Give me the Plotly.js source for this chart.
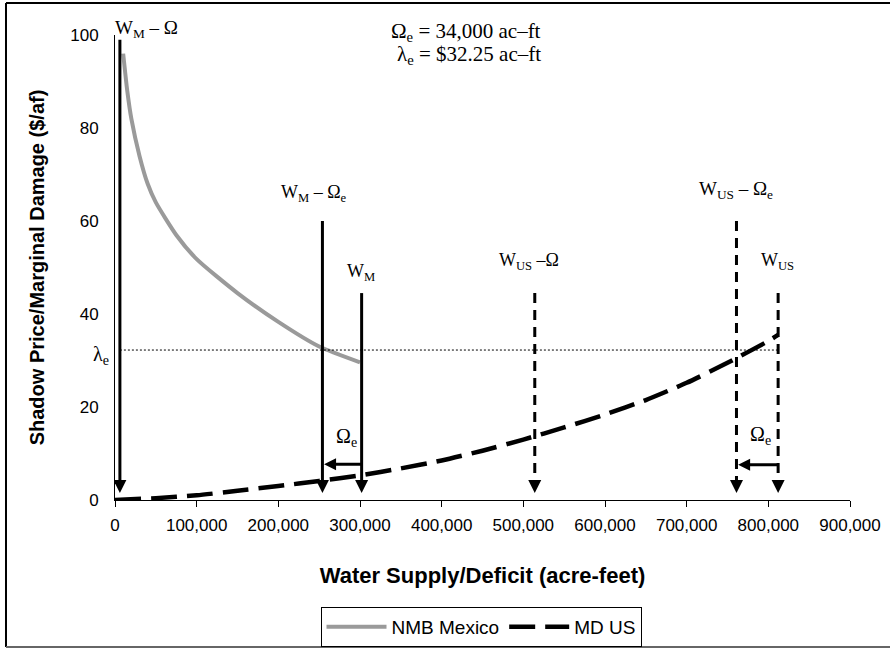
<!DOCTYPE html>
<html>
<head>
<meta charset="utf-8">
<script src="https://cdn.plot.ly/plotly-3.0.1.min.js"></script>
<style>
  html, body { margin: 0; padding: 0; background: #fff; }
  #chart { width: 890px; height: 648px; }
</style>
</head>
<body>
<div id="chart"></div>
<script>
// ---- Data ----
const mexicoX = [10000, 15000, 20000, 30000, 40000, 50000, 75000, 100000, 150000, 200000, 250000, 300000];
const mexicoY = [96, 88, 82, 74, 68, 64, 57, 51.8, 44.5, 38.3, 33.0, 29.6];

const usX = [0, 50000, 100000, 150000, 200000, 250000, 300000, 350000, 400000, 450000, 500000, 550000, 600000, 650000, 700000, 750000, 800000, 812000];
const usY = [0, 0.4, 1.0, 2.0, 3.0, 4.1, 5.3, 6.8, 8.5, 10.6, 13.0, 15.6, 18.4, 21.5, 25.2, 29.5, 34.2, 35.5];

// vertical reference arrows (W_M - Ω, W_M - Ω_e, W_M, W_US - Ω, W_US - Ω_e, W_US)
const refX      = [6000, 254000, 302000, 514000, 761000, 812000];
const refTop    = [99, 60, 44.5, 44.5, 60, 44.5];
const refTip    = [1.5, 1.5, 1.5, 1.5, 1.5, 1.5];
const refSolid  = [true, true, true, false, false, false];

// Ω_e transfer arrows (from W to W - Ω_e)
const omegaFrom = [302000, 812000];
const omegaTo   = [256000, 763000];
const omegaY    = [7.7, 7.6];

// equilibrium shadow price
const lambdaE = 32.25;
const lambdaX = [6000, 812000];

const xTicks = [0, 100000, 200000, 300000, 400000, 500000, 600000, 700000, 800000, 900000];
const yTicks = [0, 20, 40, 60, 80, 100];

// ---- Traces ----
const GRAY = '#9a9a9a';
const traces = [];

traces.push({
  x: mexicoX, y: mexicoY, type: 'scatter', mode: 'lines', name: 'NMB Mexico',
  line: { color: GRAY, width: 4, shape: 'spline', smoothing: 0.6 }
});
traces.push({
  x: usX, y: usY, type: 'scatter', mode: 'lines', name: 'MD US',
  line: { color: '#000', width: 4.5, dash: '26px,10px', shape: 'spline', smoothing: 0.6 }
});

// lambda_e dotted line
traces.push({
  x: lambdaX, y: [lambdaE, lambdaE], type: 'scatter', mode: 'lines', showlegend: false, hoverinfo: 'skip',
  line: { color: '#000', width: 1, dash: '2px,2px' }
});

// vertical arrows: shafts
refX.forEach((xv, i) => {
  traces.push({
    x: [xv, xv], y: [refTop[i], refTip[i] + 2], type: 'scatter', mode: 'lines', showlegend: false, hoverinfo: 'skip',
    line: { color: '#000', width: 3, dash: refSolid[i] ? 'solid' : '10px,7px' }
  });
});
// vertical arrows: heads
traces.push({
  x: refX, y: refTip, type: 'scatter', mode: 'markers', showlegend: false, hoverinfo: 'skip',
  marker: { symbol: 'arrow-down', size: 13, color: '#000', line: { width: 0 } }
});

// Ω_e horizontal arrows
omegaFrom.forEach((xv, i) => {
  traces.push({
    x: [xv, omegaTo[i] + 6000], y: [omegaY[i], omegaY[i]], type: 'scatter', mode: 'lines', showlegend: false, hoverinfo: 'skip',
    line: { color: '#000', width: 3 }
  });
});
traces.push({
  x: omegaTo, y: omegaY, type: 'scatter', mode: 'markers', showlegend: false, hoverinfo: 'skip',
  marker: { symbol: 'arrow-left', size: 12, color: '#000', line: { width: 0 } }
});

// ---- Annotations ----
const SERIF = 'Liberation Serif, Times New Roman, serif';
function sf(size) { return { family: SERIF, size: size, color: '#000' }; }
function lab(text, x, y, size, extra) {
  return Object.assign({ text: text, x: x, y: y, xref: 'x', yref: 'y', showarrow: false,
    xanchor: 'center', yanchor: 'middle', font: sf(size) }, extra || {});
}
const annotations = [
  lab('W<sub>M</sub> – Ω', -0.003, 1.012, 19, { xref: 'paper', yref: 'paper', xanchor: 'left' }),
  lab('W<sub>M</sub> – Ω<sub>e</sub>', 243600, 66, 18),
  lab('W<sub>M</sub>', 301000, 49, 18),
  lab('W<sub>US</sub> –Ω', 507000, 51.2, 18),
  lab('W<sub>US</sub> – Ω<sub>e</sub>', 761000, 66.7, 19),
  lab('W<sub>US</sub>', 811500, 51.2, 18),
  lab('Ω<sub>e</sub>', 283000, 13.5, 20),
  lab('Ω<sub>e</sub>', 790000, 13.8, 20),
  lab('λ<sub>e</sub>', -0.019, 31, 20, { xref: 'paper' }),
  lab('Ω<sub>e</sub> = 34,000 ac–ft', (543 - 115) / 735, (500 - 32) / 465, 21,
      { xref: 'paper', yref: 'paper', xanchor: 'right' }),
  lab('λ<sub>e</sub> = $32.25 ac–ft', (543 - 115) / 735, (500 - 55) / 465, 21,
      { xref: 'paper', yref: 'paper', xanchor: 'right' })
];

const SANS = 'Liberation Sans, Arial, sans-serif';
const layout = {
  width: 890, height: 648,
  margin: { l: 115, r: 40, t: 35, b: 148, autoexpand: false },
  paper_bgcolor: '#fff', plot_bgcolor: '#fff',
  font: { family: SANS, size: 17, color: '#000' },
  showlegend: true,
  legend: {
    orientation: 'h', xref: 'container', yref: 'container',
    x: 481 / 890, xanchor: 'center', y: 1 - 607 / 648, yanchor: 'top',
    bordercolor: '#000', borderwidth: 1, font: { family: SANS, size: 19, color: '#000' },
    itemwidth: 60, traceorder: 'normal'
  },
  xaxis: {
    range: [0, 900000], tickvals: xTicks, tickformat: ',d', automargin: false,
    showgrid: false, zeroline: false, showline: true, linecolor: '#000', linewidth: 1,
    ticks: 'outside', ticklen: 6, tickcolor: '#000', tickwidth: 1, ticklabelstandoff: 4,
    tickfont: { family: SANS, size: 17, color: '#000' },
    title: { text: '<b>Water Supply/Deficit (acre-feet)</b>', font: { family: SANS, size: 22, color: '#000' }, standoff: 33 }
  },
  yaxis: {
    range: [0, 100], tickvals: yTicks, automargin: false,
    showgrid: false, zeroline: false, showline: true, linecolor: '#000', linewidth: 1,
    ticks: '', ticklabelstandoff: 12,
    tickfont: { family: SANS, size: 17, color: '#000' },
    title: { text: '<b>Shadow Price/Marginal Damage ($/af)</b>', font: { family: SANS, size: 20, color: '#000' }, standoff: 20 }
  },
  annotations: annotations,
  shapes: [
    { type: 'line', xref: 'paper', yref: 'paper', x0: -0.1483, x1: 1.08, y0: 1.0688, y1: 1.0688, line: { color: '#000', width: 2 } },
    { type: 'line', xref: 'paper', yref: 'paper', x0: -0.1483, x1: -0.1483, y0: 1.0688, y1: -0.3161, line: { color: '#000', width: 2 } },
    { type: 'line', xref: 'paper', yref: 'paper', x0: -0.1483, x1: 1.08, y0: -0.3161, y1: -0.3161, line: { color: '#666', width: 2 } }
  ]
};

Plotly.newPlot('chart', traces, layout, { staticPlot: true, displayModeBar: false });
</script>
</body>
</html>
